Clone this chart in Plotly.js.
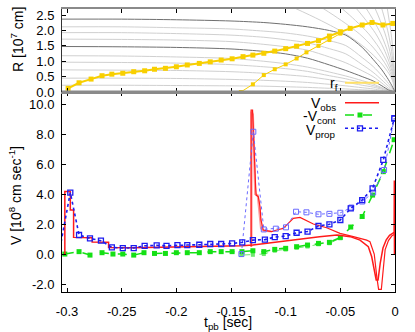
<!DOCTYPE html>
<html><head><meta charset="utf-8">
<script src="https://cdn.plot.ly/plotly-3.0.1.min.js"></script>
<style>html,body{margin:0;padding:0;background:#fff}#chart{width:415px;height:332px}</style>
</head><body><div id="chart"></div>
<script>
// ---------- top panel: mass-shell trajectories (gray) ----------
const shellT = [-0.305, -0.25, -0.2, -0.15, -0.12, -0.1, -0.08, -0.06, -0.045, -0.03, -0.02, -0.012, -0.006, -0.002, 0];
const shellA = [2.37, 2.37, 2.35, 2.31, 2.26, 2.2, 2.12, 2.0, 1.85, 1.45, 1.06, 0.72, 0.4, 0.15, 0];   // dark
const shellB = [2.12, 2.12, 2.09, 2.05, 1.98, 1.92, 1.82, 1.67, 1.51, 1.12, 0.83, 0.53, 0.28, 0.1, 0];
const shellC = [1.93, 1.93, 1.90, 1.85, 1.78, 1.70, 1.60, 1.41, 1.24, 0.89, 0.64, 0.39, 0.19, 0.06, 0];
const shellD = [1.72, 1.71, 1.69, 1.64, 1.55, 1.47, 1.36, 1.14, 0.95, 0.69, 0.5, 0.29, 0.12, 0.03, 0];
const shellE = [1.48, 1.47, 1.45, 1.40, 1.32, 1.24, 1.1, 0.88, 0.7, 0.5, 0.36, 0.2, 0.07, 0.02, 0];   // dark
const shellF = [1.18, 1.17, 1.14, 1.09, 1.0, 0.92, 0.81, 0.65, 0.52, 0.37, 0.26, 0.14, 0.05, 0.01, 0];
const shellG = [0.97, 0.96, 0.94, 0.89, 0.82, 0.76, 0.67, 0.53, 0.43, 0.30, 0.21, 0.12, 0.04, 0.01, 0];
const shellH = [0.72, 0.71, 0.70, 0.66, 0.61, 0.56, 0.50, 0.40, 0.32, 0.22, 0.16, 0.09, 0.03, 0.01, 0];
const shellI = [0.45, 0.45, 0.44, 0.41, 0.38, 0.35, 0.31, 0.25, 0.2, 0.14, 0.1, 0.05, 0.02, 0, 0];
const shellJ = [0.22, 0.22, 0.21, 0.2, 0.19, 0.17, 0.15, 0.12, 0.1, 0.07, 0.05, 0.03, 0.01, 0, 0];
// outer shells entering from above the panel
const outerR  = [3.38, 2.7, 2.32, 1.89, 1.43, 0.97, 0.59, 0.32, 0];
const outerT1 = [-0.135, -0.09, -0.0675, -0.045, -0.027, -0.0135, -0.0054, -0.0018, 0];
const outerT2 = [-0.0975, -0.065, -0.0488, -0.0325, -0.0195, -0.0098, -0.0039, -0.0013, 0];
const outerT3 = [-0.072, -0.048, -0.036, -0.024, -0.0144, -0.0072, -0.0029, -0.001, 0];
const outerT4 = [-0.0525, -0.035, -0.0263, -0.0175, -0.0105, -0.0053, -0.0021, -0.0007, 0];
const outerT5 = [-0.039, -0.026, -0.0195, -0.013, -0.0078, -0.0039, -0.0016, -0.0005, 0];
const outerT6 = [-0.027, -0.018, -0.0135, -0.009, -0.0054, -0.0027, -0.0011, -0.0004, 0];
const outerT7 = [-0.018, -0.012, -0.009, -0.006, -0.0036, -0.0018, -0.0007, -0.0002, 0];
const outerT8 = [-0.0105, -0.007, -0.0053, -0.0035, -0.0021, -0.0011, -0.0004, -0.0001, 0];

// ---------- top panel: r_f ----------
const rfT  = [-0.299, -0.289, -0.278, -0.268, -0.259, -0.249, -0.239, -0.229, -0.220, -0.210, -0.200, -0.190, -0.179, -0.169, -0.159, -0.149, -0.139, -0.130, -0.120, -0.110, -0.100, -0.090, -0.080, -0.070, -0.060, -0.050, -0.041, -0.030, -0.021, -0.011, -0.002];
const rfR  = [0.12, 0.30, 0.42, 0.53, 0.58, 0.61, 0.66, 0.69, 0.74, 0.77, 0.82, 0.88, 0.93, 0.98, 1.04, 1.08, 1.15, 1.20, 1.26, 1.33, 1.41, 1.49, 1.58, 1.67, 1.82, 1.96, 2.07, 2.18, 2.26, 2.18, 2.23];
const rf2T = [-0.141, -0.130, -0.120, -0.110, -0.100, -0.090, -0.081, -0.070, -0.060, -0.050];
const rf2R = [0.0, 0.25, 0.55, 0.74, 0.90, 1.09, 1.29, 1.50, 1.69, 1.90];

// ---------- bottom panel: V_obs (red) ----------
const obsAT = [-0.302, -0.302, -0.297, -0.297, -0.294, -0.294, -0.277, -0.277, -0.262, -0.262, -0.24, -0.2, -0.16, -0.14, -0.13, -0.12, -0.1, -0.087, -0.069, -0.053, -0.041, -0.032, -0.0244, -0.0213, -0.0185, -0.0172, -0.0155, -0.0135, -0.011, -0.008, -0.005, -0.002, -0.0008, -0.0006, -0.0005];
const obsAV = [0, 4.16, 4.16, 2.93, 2.93, 1.11, 1.08, 0.8, 0.78, 0.44, 0.42, 0.46, 0.5, 0.55, 0.6, 0.7, 0.88, 0.98, 1.16, 1.27, 1.16, 0.93, 0.49, -0.18, -1.3, -1.73, -1.73, -0.6, 0.4, 0.95, 1.25, 1.4, 1.45, 4.9, 0];
const obsBT = [-0.1316, -0.1316, -0.1303, -0.129, -0.1275, -0.127, -0.125, -0.1235, -0.1226, -0.1205, -0.1128, -0.1082, -0.1022, -0.0976, -0.093, -0.0869, -0.0747, -0.0625, -0.0503, -0.0381, -0.0259, -0.0229, -0.019, -0.0165, -0.015, -0.0125, -0.011, -0.009, -0.006, -0.003, -0.0008];
const obsBV = [0.49, 9.6, 9.6, 6.5, 4.5, 3.93, 3.82, 3.16, 2.27, 1.6, 1.49, 1.6, 1.71, 2.04, 2.38, 2.44, 2.0, 1.75, 1.38, 1.16, 0.93, 0.82, 0.0, -1.6, -2.36, -2.36, -1.0, 0.3, 0.9, 1.2, 1.3];
const obsCT = [-0.1313, -0.1313, -0.13, -0.1285, -0.1278, -0.1255, -0.1245, -0.1235, -0.1225, -0.12, -0.113];
const obsCV = [0.5, 9.5, 9.3, 5.5, 4.0, 3.9, 3.2, 2.3, 1.7, 1.55, 1.5];

// ---------- bottom panel: -V_cont (green) ----------
const contT = [-0.302, -0.289, -0.279, -0.268, -0.258, -0.249, -0.239, -0.2296, -0.22, -0.21, -0.2, -0.19, -0.179, -0.169, -0.159, -0.149, -0.14, -0.13, -0.12, -0.11, -0.1, -0.09, -0.08, -0.07, -0.06, -0.05, -0.0405, -0.030, -0.0205, -0.0107, -0.0008];
const contV = [0.0, 0.16, -0.07, 0.09, 0.0, 0.0, -0.07, 0.09, 0.04, 0.04, 0.09, 0.09, 0.09, 0.16, 0.16, 0.16, 0.16, 0.22, 0.16, 0.31, 0.38, 0.49, 0.6, 0.71, 0.78, 1.11, 1.8, 2.5, 3.93, 5.49, 7.62];
const cont2T = [-0.1405, -0.13, -0.12, -0.11, -0.1, -0.09, -0.08, -0.07, -0.06, -0.05];
const cont2V = [-0.07, -0.05, 0.0, 0.22, 0.3, 0.42, 0.5, 0.65, 0.72, 1.05];

// ---------- bottom panel: V_prop (blue) ----------
const propT = [-0.3075, -0.297, -0.289, -0.279, -0.269, -0.259, -0.249, -0.239, -0.229, -0.218, -0.209, -0.199, -0.19, -0.179, -0.169, -0.159, -0.149, -0.1397, -0.13, -0.119, -0.11, -0.1, -0.09, -0.08, -0.07, -0.06, -0.05, -0.0405, -0.030, -0.0205, -0.0107, -0.0006];
const propV = [0.0, 4.1, 1.27, 1.04, 0.89, 0.45, 0.4, 0.4, 0.55, 0.58, 0.55, 0.6, 0.6, 0.62, 0.67, 0.67, 0.71, 0.78, 0.93, 0.96, 1.13, 1.2, 1.42, 1.5, 1.87, 1.98, 2.27, 3.04, 3.6, 4.38, 6.27, 9.05];
const prop2T = [-0.1405, -0.1296, -0.12, -0.109, -0.0997, -0.0905, -0.081, -0.070, -0.060, -0.050, -0.040, -0.030, -0.020, -0.010, -0.0008];
const prop2V = [0.0, 8.15, 1.64, 1.69, 1.78, 2.82, 2.78, 2.65, 2.68, 2.75, 3.1, 3.5, 4.1, 5.6, 9.0];

// ---------- ticks ----------
const xTickVals = [-0.3, -0.25, -0.2, -0.15, -0.1, -0.05, 0];
const xTickText = ['-0.3', '-0.25', '-0.2', '-0.15', '-0.1', '-0.05', '0'];
const vTickVals = [-2, 0, 2, 4, 6, 8, 10];
const vTickText = ['-2.0', '0.0', '2.0', '4.0', '6.0', '8.0', '10.0'];
const rTickVals = [0, 0.5, 1, 1.5, 2, 2.5];
const rTickText = ['0.0', '0.5', '1.0', '1.5', '2.0', '2.5'];

// ---------- build ----------
const FONT = 'Liberation Sans, Arial, Helvetica, sans-serif';
const LIGHT = '#d0d0d0', DARK = '#707070';
const traces = [];
function shell(t, r, col, w) {
  traces.push({x: t, y: r, xaxis: 'x2', yaxis: 'y2', mode: 'lines', hoverinfo: 'skip',
    line: {color: col, width: w, shape: 'spline', smoothing: 0.8}, showlegend: false});
}
[shellB, shellC, shellD, shellF, shellG, shellH, shellI, shellJ].forEach(r => shell(shellT, r, LIGHT, 1));
[outerT1, outerT2, outerT3, outerT4, outerT5, outerT6, outerT7, outerT8].forEach(t => shell(t, outerR, LIGHT, 1));
shell(shellT, shellA, DARK, 1);
shell(shellT, shellE, DARK, 1);

const YEL = '#f8cf00';
traces.push({x: rf2T, y: rf2R, xaxis: 'x2', yaxis: 'y2', mode: 'lines+markers', showlegend: false,
  line: {color: YEL, width: 1}, marker: {symbol: 'square', size: 4, color: YEL}});
traces.push({x: rfT, y: rfR, xaxis: 'x2', yaxis: 'y2', mode: 'lines+markers', showlegend: false,
  line: {color: YEL, width: 2}, marker: {symbol: 'square', size: 5, color: YEL}});

const RED = '#ff1a1a', GRN = '#14e014', BLU = '#1c1cf0';
traces.push({x: cont2T, y: cont2V, mode: 'lines+markers', showlegend: false,
  line: {color: '#70e870', width: 1, dash: 'dash'}, marker: {symbol: 'square', size: 4, color: '#70e870'}});
traces.push({x: contT, y: contV, mode: 'lines+markers', showlegend: false,
  line: {color: GRN, width: 1.5, dash: 'dash'}, marker: {symbol: 'square', size: 5, color: GRN}});
traces.push({x: obsCT, y: obsCV, mode: 'lines', showlegend: false, line: {color: '#ff9a9a', width: 2.2}});
traces.push({x: obsAT, y: obsAV, mode: 'lines', showlegend: false, line: {color: RED, width: 1.5}});
traces.push({x: obsBT, y: obsBV, mode: 'lines', showlegend: false, line: {color: RED, width: 1.2}});
traces.push({x: prop2T, y: prop2V, mode: 'lines+markers', showlegend: false,
  line: {color: '#6a6aff', width: 1, dash: 'dot'}, marker: {symbol: 'square-open', size: 5, color: '#6a6aff', line: {width: 1}}});
traces.push({x: propT, y: propV, mode: 'lines+markers', showlegend: false,
  line: {color: BLU, width: 1.6, dash: 'dot'}, marker: {symbol: 'square-open', size: 5, color: BLU, line: {width: 1.3}}});

// paper-coordinate helpers (plot area: px 62..395, py 9..292)
const PX = p => (p - 62) / 333, PY = p => (292 - p) / 283;
const split = 200 / 283;

const axisCommon = {ticks: 'inside', ticklen: 4, tickcolor: '#000', showgrid: false, zeroline: false,
  tickfont: {family: FONT, size: 13, color: '#000'}, ticklabelstandoff: 4};

const shapes = [
  {type: 'line', xref: 'paper', yref: 'paper', x0: 0, x1: 1, y0: split, y1: split, line: {color: '#8a8a8a', width: 3}, layer: 'above'},
  // legend samples
  {type: 'line', xref: 'paper', yref: 'paper', x0: PX(345), x1: PX(379), y0: PY(82.7), y1: PY(82.7), line: {color: '#ffe066', width: 2}},
  {type: 'line', xref: 'paper', yref: 'paper', x0: PX(345), x1: PX(379), y0: PY(102.7), y1: PY(102.7), line: {color: RED, width: 1.5}},
  {type: 'line', xref: 'paper', yref: 'paper', x0: PX(345), x1: PX(375), y0: PY(115), y1: PY(115), line: {color: GRN, width: 1.5, dash: 'dash'}},
  {type: 'rect', xref: 'paper', yref: 'paper', x0: PX(357.5), x1: PX(362.5), y0: PY(117.5), y1: PY(112.5), fillcolor: GRN, line: {width: 0}},
  {type: 'line', xref: 'paper', yref: 'paper', x0: PX(345), x1: PX(378), y0: PY(128.3), y1: PY(128.3), line: {color: BLU, width: 1.6, dash: 'dot'}},
  {type: 'rect', xref: 'paper', yref: 'paper', x0: PX(357.5), x1: PX(362.5), y0: PY(130.8), y1: PY(125.8), fillcolor: 'rgba(0,0,0,0)', line: {color: BLU, width: 1.3}}
];

const ann = (text, x, y, opts) => Object.assign({text, xref: 'paper', yref: 'paper', x, y, showarrow: false,
  xanchor: 'center', yanchor: 'middle', font: {family: FONT, size: 14, color: '#000'}}, opts || {});
const annotations = [
  ann('R [10<sup>7</sup> cm]', PX(17), PY(40), {textangle: -90}),
  ann('V [10<sup>8</sup> cm sec<sup>-1</sup>]', PX(15), PY(195), {textangle: -90}),
  ann('t<sub>pb</sub> [sec]', PX(228), PY(323)),
  ann('r<sub>f</sub>', PX(340), PY(84), {xanchor: 'right'}),
  ann('V<sub>obs</sub>', PX(338), PY(104), {xanchor: 'right'}),
  ann('-V<sub>cont</sub>', PX(338), PY(117), {xanchor: 'right'}),
  ann('V<sub>prop</sub>', PX(338), PY(130.5), {xanchor: 'right'})
];

const layout = {
  width: 415, height: 332, margin: {l: 62, r: 20, t: 9, b: 40},
  paper_bgcolor: '#fff', plot_bgcolor: '#fff', showlegend: false,
  xaxis: Object.assign({}, axisCommon, {domain: [0, 1], anchor: 'y', range: [-0.3046, 0], ticklabelstandoff: 7,
    tickvals: xTickVals, ticktext: xTickText, showline: true, linecolor: '#000', linewidth: 1, mirror: 'ticks'}),
  yaxis: Object.assign({}, axisCommon, {domain: [0, split], anchor: 'x', range: [-2.53, 10.8],
    tickvals: vTickVals, ticktext: vTickText, showline: true, linecolor: '#000', linewidth: 1, mirror: 'ticks'}),
  xaxis2: Object.assign({}, axisCommon, {domain: [0, 1], anchor: 'y2', matches: 'x', range: [-0.3046, 0],
    tickvals: xTickVals, showticklabels: false, showline: true, linecolor: '#8a8a8a', linewidth: 2, mirror: 'ticks'}),
  yaxis2: Object.assign({}, axisCommon, {domain: [split, 1], anchor: 'x2', range: [0, 2.7],
    tickvals: rTickVals, ticktext: rTickText, showline: true, linecolor: '#333', linewidth: 1, mirror: 'ticks'}),
  shapes, annotations
};

Plotly.newPlot('chart', traces, layout, {staticPlot: true, displayModeBar: false});
</script></body></html>
